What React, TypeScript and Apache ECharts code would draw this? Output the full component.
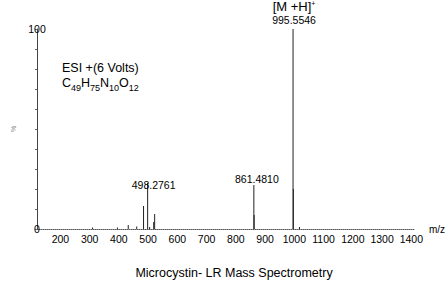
import React, { useEffect, useRef } from "react";
import * as echarts from "echarts";

// m/z values of the peaks and their relative intensities (%)
const PEAK_MZ = [310, 395, 432, 461, 484.3, 498.28, 505, 519, 522.3, 861.48, 862.5, 995.55, 996.6, 1017.5];
const PEAK_INT = [0.7, 0.8, 2, 1.2, 11.5, 23, 1, 3.5, 7.5, 22, 7, 100, 20, 1];
const X_TICKS = [200, 300, 400, 500, 600, 700, 800, 900, 1000, 1100, 1200, 1300, 1400];
const Y_LABELS = [0, 100];
const FONT = "Liberation Sans, Arial, sans-serif";

export default function App() {
  const ref = useRef<HTMLDivElement>(null);
  useEffect(() => {
    const chart = echarts.init(ref.current!, null, { renderer: "svg" });
    const data = PEAK_MZ.map((m, i) => {
      const item: any = { value: [m, PEAK_INT[i]] };
      if (m === 995.55) {
        item.label = {
          show: true,
          position: "top",
          distance: 3,
          offset: [1, 0],
          formatter: "{a|[M +H]}{s|+}\n{b|995.5546}",
          rich: {
            a: { fontSize: 13, color: "#000", fontFamily: FONT, lineHeight: 13 },
            s: { fontSize: 7, color: "#000", fontFamily: FONT, verticalAlign: "top", lineHeight: 13 },
            b: { fontSize: 10.5, color: "#000", fontFamily: FONT, lineHeight: 13 },
          },
        };
      } else if (m === 498.28) {
        item.label = {
          show: true,
          position: "top",
          distance: 0,
          offset: [6, 7],
          formatter: "498.2761",
          fontSize: 10.5,
          color: "#000",
          fontFamily: FONT,
        };
      } else if (m === 861.48) {
        item.label = {
          show: true,
          position: "top",
          distance: 1,
          offset: [3, 0],
          formatter: "861.4810",
          fontSize: 10.5,
          color: "#000",
          fontFamily: FONT,
        };
      }
      return item;
    });
    chart.setOption({
      animation: false,
      backgroundColor: "#fff",
      grid: { left: 37, right: 31, top: 29, bottom: 55 },
      xAxis: {
        type: "value",
        min: 120,
        max: 1410,
        name: "m/z",
        nameLocation: "end",
        nameGap: 1,
        nameTextStyle: { fontSize: 10, color: "#000", fontFamily: FONT, padding: [0, 0, 4, 0] },
        axisLine: { show: true, lineStyle: { color: "#555", width: 1, type: "dotted" } },
        axisTick: { show: false },
        splitLine: { show: false },
        axisLabel: {
          customValues: X_TICKS,
          formatter: (v: number) => String(v),
          margin: 4,
          fontSize: 10.5,
          color: "#000",
          fontFamily: FONT,
        },
      },
      yAxis: {
        type: "value",
        min: 0,
        max: 100,
        interval: 10,
        name: "%",
        nameLocation: "middle",
        nameGap: 3,
        nameRotate: 90,
        nameTextStyle: { fontSize: 7, color: "#888", fontFamily: FONT },
        axisLine: { show: true, lineStyle: { color: "#444", width: 1 } },
        axisTick: { show: true, length: 2, lineStyle: { color: "#666" } },
        splitLine: { show: false },
        axisLabel: {
          customValues: Y_LABELS,
          formatter: (v: number) => String(v),
          margin: 0,
          align: "center",
          fontSize: 10.5,
          color: "#000",
          fontFamily: FONT,
        },
      },
      series: [
        {
          type: "bar",
          barWidth: 1,
          itemStyle: { color: "#222" },
          data,
        },
      ],
      graphic: [
        {
          type: "text",
          left: 62,
          top: 61,
          style: { text: "ESI +(6 Volts)", font: `12.5px ${FONT}`, fill: "#000" },
        },
        {
          type: "text",
          left: 62,
          top: 76,
          style: {
            text: "{m|C}{s|49}{m|H}{s|75}{m|N}{s|10}{m|O}{s|12}",
            rich: {
              m: { fontSize: 12.5, fontFamily: FONT, fill: "#000", color: "#000", lineHeight: 16, verticalAlign: "top" },
              s: { fontSize: 9, fontFamily: FONT, fill: "#000", color: "#000", lineHeight: 16, verticalAlign: "top", padding: [7, 0, 0, 0] },
            },
          },
        },
        {
          type: "text",
          x: 234,
          y: 273,
          style: {
            text: "Microcystin- LR Mass Spectrometry",
            font: `12.5px ${FONT}`,
            fill: "#000",
            textAlign: "center",
            textVerticalAlign: "middle",
          },
        },
      ],
    });
    return () => chart.dispose();
  }, []);
  return <div ref={ref} style={{ position: "fixed", left: 0, top: 0, width: 448, height: 284 }} />;
}
